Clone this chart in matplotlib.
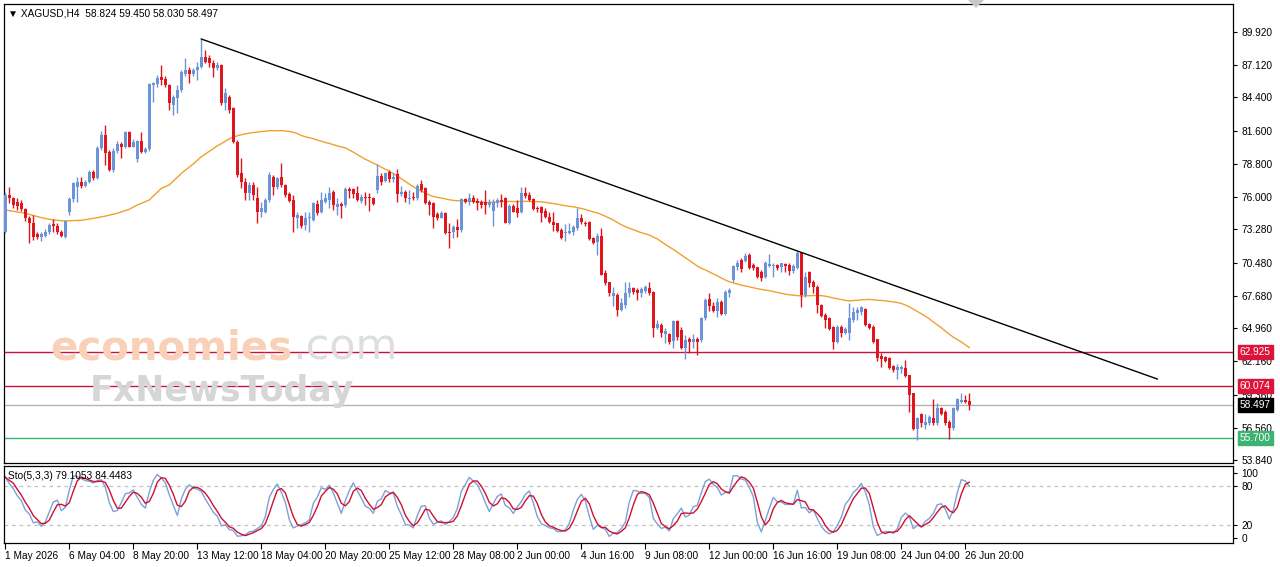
import numpy as np
import pandas as pd
import matplotlib
matplotlib.use("Agg")
import matplotlib.pyplot as plt
from matplotlib.patches import Polygon

plt.rcParams['font.family'] = ['Liberation Sans', 'DejaVu Sans']

# ---------------- data (H4 bars, XAGUSD) ----------------
opens = [73.09, 76.18, 75.9, 75.6, 75.5, 75.0, 74.22, 73.8, 72.87, 72.67,
         72.73, 73.03, 73.74, 73.6, 73.09, 72.67, 74.72, 75.85, 76.88, 77.25,
         76.97, 77.31, 78.09, 77.64, 80.12, 81.24, 79.78, 78.29, 79.89, 80.45,
         80.2, 81.46, 80.26, 79.22, 80.73, 79.8, 80.06, 85.46, 85.51, 86.16,
         86.0, 85.45, 83.77, 84.33, 85.03, 86.4, 86.72, 86.35, 86.72, 87.0,
         87.84, 87.7, 87.28, 86.9, 87.14, 83.9, 84.47, 83.49, 80.68, 78.01,
         77.31, 76.32, 77.03, 75.9, 74.78, 74.78, 75.76, 77.73, 76.88, 77.73,
         77.03, 76.24, 75.76, 74.28, 74.44, 73.65, 74.22, 74.08, 75.4, 74.78,
         75.62, 75.76, 76.4, 75.2, 75.39, 75.34, 76.68, 76.68, 76.32, 75.67,
         76.04, 75.95, 75.95, 76.6, 77.81, 77.36, 78.09, 77.53, 77.92, 76.23,
         76.46, 75.84, 75.95, 75.9, 77.08, 76.74, 75.62, 75.48, 74.55, 74.27,
         74.63, 73.09, 73.03, 73.51, 73.23, 75.84, 75.56, 75.95, 75.67, 75.62,
         75.57, 75.34, 74.84, 75.48, 75.76, 75.9, 73.8, 75.28, 75.06, 74.72,
         76.32, 76.18, 75.85, 75.12, 75.2, 74.84, 74.36, 73.94, 73.8, 73.23,
         72.95, 72.95, 73.09, 73.37, 74.27, 73.85, 73.94, 72.59, 72.19, 72.76,
         69.58, 68.82, 67.7, 67.75, 66.49, 66.91, 67.89, 68.32, 68.18, 67.89,
         68.12, 68.32, 68.03, 64.94, 65.22, 64.47, 64.47, 63.9, 65.59, 64.8,
         63.26, 64.02, 63.82, 64.02, 63.96, 65.79, 67.39, 66.83, 66.43, 67.19,
         66.15, 67.95, 69.02, 70.09, 70.7, 70.65, 71.13, 70.28, 70.09, 69.72,
         69.24, 70.2, 70.2, 70.28, 70.09, 70.37, 70.28, 69.8, 70.0, 71.27,
         67.75, 69.72, 68.88, 68.46, 66.91, 66.07, 65.79, 65.03, 63.82, 65.03,
         64.58, 64.52, 65.65, 66.26, 66.35, 66.55, 65.31, 65.08, 64.02, 62.61,
         62.5, 62.41, 61.77, 61.43, 61.49, 61.57, 61.01, 59.46, 56.43, 57.72,
         56.8, 56.94, 57.36, 56.94, 58.2, 57.92, 57.08, 56.52, 58.06, 58.76,
         58.9, 58.824]
highs = [76.4, 76.88, 76.0, 75.9, 75.76, 75.1, 74.4, 74.5, 73.09, 73.09,
         73.3, 73.8, 74.16, 73.8, 73.2, 74.1, 76.0, 77.3, 77.73, 77.73,
         77.45, 78.29, 78.29, 80.3, 81.55, 82.08, 80.0, 80.1, 80.7, 80.67,
         81.6, 81.6, 80.9, 80.8, 81.52, 80.2, 85.6, 85.74, 86.3, 87.14,
         86.2, 85.5, 84.6, 85.45, 86.7, 87.7, 87.0, 86.85, 87.42, 89.33,
         88.4, 87.98, 87.56, 87.42, 87.2, 85.17, 84.6, 83.6, 80.8, 79.27,
         77.59, 77.31, 77.31, 76.88, 75.62, 75.9, 78.15, 77.87, 77.7, 78.85,
         77.1, 76.46, 76.18, 74.78, 74.5, 74.78, 74.78, 75.6, 75.76, 76.46,
         76.32, 76.88, 76.6, 75.9, 75.62, 76.88, 76.88, 76.8, 76.96, 76.23,
         76.46, 76.32, 76.04, 78.76, 78.0, 78.1, 78.29, 78.0, 78.37, 76.96,
         76.6, 76.6, 76.4, 77.08, 77.44, 76.88, 75.76, 75.62, 74.77, 74.83,
         74.77, 73.79, 73.65, 74.15, 75.9, 75.95, 76.32, 76.18, 75.9, 75.76,
         76.6, 75.85, 75.85, 75.96, 76.24, 76.04, 75.4, 75.4, 75.76, 76.89,
         76.89, 76.46, 75.96, 75.28, 75.28, 75.06, 74.78, 74.78, 73.85, 73.37,
         73.71, 73.8, 73.65, 75.06, 74.55, 73.99, 73.99, 72.67, 72.95, 73.43,
         69.86, 68.88, 68.46, 67.89, 67.47, 68.82, 68.82, 68.46, 68.32, 68.46,
         68.6, 68.88, 68.1, 65.65, 65.37, 64.94, 64.58, 65.65, 65.65, 65.03,
         64.38, 64.24, 64.47, 64.18, 65.87, 67.47, 67.89, 67.19, 67.47, 67.33,
         68.18, 68.32, 70.28, 70.7, 70.84, 71.27, 71.27, 70.42, 70.14, 69.86,
         70.65, 71.21, 70.48, 70.37, 70.48, 70.48, 70.42, 70.37, 71.49, 71.32,
         69.72, 69.8, 69.02, 68.6, 66.99, 66.21, 65.87, 65.14, 65.22, 65.22,
         65.03, 67.05, 66.77, 66.77, 66.83, 66.63, 65.42, 65.22, 64.02, 62.84,
         62.61, 62.56, 61.85, 61.94, 61.85, 62.27, 61.01, 59.52, 57.5, 57.78,
         57.72, 57.64, 58.96, 58.62, 58.34, 58.06, 57.22, 58.34, 59.04, 59.46,
         59.32, 59.45]
lows = [72.95, 75.48, 75.1, 74.95, 74.8, 74.0, 72.11, 72.4, 72.5, 72.3,
        72.6, 72.9, 73.09, 72.9, 72.6, 72.53, 74.5, 75.6, 75.62, 76.74,
        76.88, 77.2, 77.45, 77.5, 80.0, 78.71, 78.2, 78.1, 79.7, 79.33,
        80.1, 80.2, 80.2, 79.0, 79.7, 79.7, 79.9, 84.05, 85.3, 85.46,
        85.3, 83.35, 82.9, 83.07, 84.9, 86.2, 85.6, 86.2, 85.9, 86.86,
        87.28, 87.0, 86.16, 86.72, 83.77, 83.35, 83.07, 80.54, 77.73, 76.74,
        75.76, 75.76, 75.76, 73.8, 74.36, 74.64, 75.62, 76.18, 76.7, 76.88,
        76.0, 75.62, 73.09, 73.37, 73.43, 73.23, 73.09, 73.95, 74.5, 74.64,
        75.48, 75.05, 74.91, 74.49, 74.21, 75.2, 75.95, 75.9, 75.67, 75.48,
        75.34, 74.83, 75.34, 76.32, 77.02, 77.3, 77.3, 77.3, 75.62, 76.12,
        75.62, 75.39, 75.76, 75.76, 76.46, 75.39, 74.49, 73.37, 74.07, 74.21,
        72.9, 71.68, 72.53, 72.67, 73.03, 75.48, 75.34, 75.48, 74.91, 75.05,
        74.55, 75.2, 73.6, 75.2, 75.2, 73.8, 73.71, 74.72, 74.36, 74.64,
        75.96, 75.68, 74.92, 74.72, 73.94, 74.22, 73.8, 73.15, 73.09, 72.47,
        72.31, 72.87, 72.81, 73.23, 73.71, 73.6, 72.39, 72.03, 71.13, 69.4,
        68.6, 67.7, 66.86, 66.01, 66.41, 66.63, 67.61, 67.81, 67.33, 67.61,
        67.95, 67.75, 64.24, 64.86, 64.24, 63.68, 63.62, 63.26, 63.96, 63.17,
        62.33, 62.84, 63.26, 62.7, 63.82, 65.65, 66.43, 66.35, 65.87, 66.07,
        66.07, 67.56, 68.88, 69.86, 69.72, 70.56, 69.92, 69.86, 69.16, 68.96,
        69.16, 70.14, 69.3, 69.86, 69.72, 69.72, 69.44, 69.64, 69.92, 66.77,
        67.61, 68.46, 67.89, 66.21, 65.93, 64.94, 64.8, 63.17, 63.68, 64.24,
        64.47, 63.96, 65.51, 65.65, 66.07, 65.14, 64.86, 63.73, 62.22, 61.71,
        62.13, 61.49, 61.29, 60.64, 61.21, 60.87, 57.92, 56.37, 55.53, 56.65,
        56.43, 56.8, 56.8, 56.8, 57.64, 56.8, 55.59, 56.37, 58.0, 58.62,
        58.62, 58.03]
closes = [76.18, 75.9, 75.34, 75.28, 75.0, 74.22, 73.8, 72.67, 72.67, 72.87,
          73.03, 73.65, 73.6, 73.09, 72.73, 73.99, 75.85, 77.17, 77.31, 76.97,
          77.31, 78.09, 77.59, 80.17, 81.24, 79.7, 78.29, 79.89, 80.45, 80.2,
          81.46, 80.26, 80.67, 80.73, 79.8, 80.06, 85.51, 85.6, 86.07, 85.88,
          85.45, 83.9, 84.47, 85.03, 86.58, 86.72, 86.35, 86.72, 87.0, 87.84,
          87.42, 87.28, 86.9, 87.14, 83.9, 84.75, 83.35, 80.68, 77.87, 77.31,
          76.32, 77.03, 76.18, 74.78, 75.06, 75.76, 77.87, 76.88, 77.59, 77.03,
          76.18, 75.68, 74.36, 74.5, 73.6, 74.22, 74.36, 75.48, 74.64, 75.76,
          75.9, 76.32, 75.34, 75.39, 75.28, 76.68, 76.52, 76.23, 75.76, 76.04,
          75.95, 75.9, 75.39, 77.81, 77.3, 78.0, 77.53, 77.72, 76.23, 76.46,
          75.9, 75.95, 75.9, 76.96, 76.6, 75.48, 75.34, 74.35, 74.21, 74.63,
          72.95, 72.95, 73.51, 73.23, 75.84, 75.56, 75.95, 75.62, 75.48, 75.34,
          75.34, 75.57, 75.57, 75.76, 75.57, 73.8, 75.28, 74.78, 74.64, 76.32,
          76.13, 75.76, 75.0, 75.0, 74.64, 74.36, 73.88, 73.65, 73.15, 72.59,
          73.04, 73.15, 73.51, 74.27, 73.88, 73.71, 72.47, 72.11, 72.76, 69.44,
          68.74, 67.89, 67.89, 66.49, 67.05, 67.89, 68.37, 67.98, 67.89, 68.26,
          68.4, 67.89, 64.94, 65.31, 64.52, 64.75, 63.82, 65.59, 64.18, 63.26,
          63.96, 63.82, 64.02, 63.82, 65.79, 67.33, 66.83, 66.43, 67.19, 66.15,
          68.03, 68.18, 70.2, 70.42, 69.92, 71.04, 70.0, 70.0, 69.24, 69.16,
          70.48, 70.37, 70.28, 70.0, 70.42, 70.2, 69.8, 70.2, 71.32, 67.75,
          69.3, 68.74, 68.46, 66.91, 65.98, 65.65, 64.86, 63.82, 65.03, 64.58,
          64.86, 65.79, 66.35, 66.49, 66.77, 65.22, 64.94, 63.82, 62.41, 62.33,
          62.22, 61.57, 61.43, 61.66, 61.66, 60.93, 59.32, 56.43, 57.36, 56.99,
          57.08, 57.44, 56.94, 58.2, 57.72, 56.94, 56.52, 58.2, 58.96, 58.9,
          58.76, 58.497]

# MA(50) before enough history is on screen: values
ma_early_bars = [0, 5, 9, 12, 15, 19, 22, 25, 28, 31, 33, 36, 39, 41, 44, 47]
ma_early_vals = [74.92, 74.64, 74.27, 74.07, 73.99, 74.05, 74.21, 74.4, 74.64,
                 74.98, 75.34, 75.76, 76.74, 77.03, 78.0, 78.8]
MA_PERIOD = 50

# trend line end points (bar index, price)
trend_bars = [49, 288]
trend_prices = [89.33, 60.67]

# horizontal levels
level_prices = [62.925, 60.074, 58.497, 55.700]
level_colors = ['#c8143c', '#c8143c', '#b4b4b4', '#3cb371']
level_box = ['#dc143c', '#dc143c', '#000000', '#3cb371']

price_ticks = [89.92, 87.12, 84.40, 81.60, 78.80, 76.00, 73.28, 70.48,
               67.68, 64.96, 62.16, 59.36, 56.56, 53.84]
time_tick_bars = [0, 16, 32, 48, 64, 80, 96, 112, 128, 144, 160, 176, 192,
                  208, 224, 240]
time_labels = ['1 May 2026', '6 May 04:00', '8 May 20:00', '13 May 12:00',
               '18 May 04:00', '20 May 20:00', '25 May 12:00', '28 May 08:00',
               '2 Jun 00:00', '4 Jun 16:00', '9 Jun 08:00', '12 Jun 00:00',
               '16 Jun 16:00', '19 Jun 08:00', '24 Jun 04:00', '26 Jun 20:00']

# ---------------- figure ----------------
W, H = 1280, 567
fig = plt.figure(figsize=(W / 100, H / 100), dpi=100, facecolor='white')

def fx(px):
    return px / W

def fy(py):
    return 1 - py / H

FS = 7.3
main_l, main_r, main_t, main_b = 4, 1233, 4, 463
sto_t, sto_b = 466, 543
ax = fig.add_axes([fx(main_l), fy(main_b), fx(main_r - main_l), (main_b - main_t) / H])
axs = fig.add_axes([fx(main_l), fy(sto_b), fx(main_r - main_l), (sto_b - sto_t) / H])

o = np.array(opens); h = np.array(highs); l = np.array(lows); c = np.array(closes)
n = len(c)
x = np.arange(n)
bull = c >= o
BLUE = '#6b94d8'
RED = '#e0161e'
cols = np.where(bull, BLUE, RED)

ax.vlines(x, l, h, colors=cols, linewidth=1.0, zorder=3)
body_bot = np.minimum(o, c)
body_h = np.maximum(np.abs(c - o), 0.09)
ax.bar(x, body_h, bottom=body_bot, width=0.78, color=cols, linewidth=0, zorder=4)

# moving average: early read values, then SMA(50) of the closes
sma = pd.Series(c).rolling(MA_PERIOD).mean()
ma_x = list(ma_early_bars) + list(range(MA_PERIOD - 1, n))
ma_y = list(ma_early_vals) + list(sma.iloc[MA_PERIOD - 1:].values)
ax.plot(ma_x, ma_y, color='#f0a030', linewidth=1.0, zorder=2)
# trend line
ax.plot(trend_bars, trend_prices, color='black', linewidth=1.0, zorder=5)

# horizontal levels
for p, lc in zip(level_prices, level_colors):
    ax.axhline(p, color=lc, linewidth=1.0, zorder=1)

xmin = -0.33
xmax = (main_r - 5.3) / 4.0
ax.set_xlim(xmin, xmax)
ax.set_ylim(53.59, 92.28)
ax.set_xticks([])
ax.yaxis.tick_right()
ax.set_yticks(price_ticks)
ax.set_yticklabels([f'{v:.3f}' for v in price_ticks])
ax.tick_params(axis='y', direction='out', length=3, width=0.8, labelsize=FS, pad=3, colors='black')
for s in ax.spines.values():
    s.set_linewidth(0.9)
    s.set_color('black')

for p, bc in zip(level_prices, level_box):
    ax.annotate(f'{p:.3f}', xy=(1.0, p), xycoords=('axes fraction', 'data'),
                xytext=(5, 0), textcoords='offset points', ha='left', va='center',
                fontsize=FS, color='white', zorder=10, annotation_clip=False,
                bbox=dict(boxstyle='square,pad=0.2', facecolor=bc, edgecolor=bc))

# watermark
t1 = fig.text(fx(50), fy(360), 'economies', fontsize=29, color='#f9d0b8',
              family='DejaVu Sans', fontweight='bold', ha='left', va='baseline', zorder=0)
fig.canvas.draw()
bb = t1.get_window_extent()
fig.text(bb.x1 / W, fy(360), '.com', fontsize=31, color='#dedede',
         family='DejaVu Sans', ha='left', va='baseline', zorder=0)
fig.text(fx(90), fy(401), 'FxNewsToday', fontsize=25, color='#d6d6d6',
         family='DejaVu Sans', fontweight='bold', ha='left', va='baseline', zorder=0)

# title
fig.text(fx(8), fy(13), '\u25bc XAGUSD,H4  58.824 59.450 58.030 58.497',
         fontsize=FS, ha='left', va='center', color='black')

# ---------------- stochastic (5,3,3) ----------------
s_h = pd.Series(h); s_l = pd.Series(l); s_c = pd.Series(c)
hh = s_h.rolling(5, min_periods=1).max()
ll = s_l.rolling(5, min_periods=1).min()
num = (s_c - ll).rolling(3, min_periods=1).sum()
den = (hh - ll).rolling(3, min_periods=1).sum()
k = 100 * num / den
d = k.rolling(3, min_periods=1).mean()

axs.axhline(80, color='#c0c0c0', linewidth=0.9, linestyle=(0, (3, 3)))
axs.axhline(20, color='#c0c0c0', linewidth=0.9, linestyle=(0, (3, 3)))
axs.plot(x, k, color='#7ba2d8', linewidth=1.0)
axs.plot(x, d, color='#d01030', linewidth=1.0)
axs.set_xlim(xmin, xmax)
axs.set_ylim(-7.7, 110.8)
axs.yaxis.tick_right()
axs.set_yticks([0, 20, 80, 100])
axs.set_yticklabels(['0', '20', '80', '100'])
axs.tick_params(axis='y', direction='out', length=3, width=0.8, labelsize=FS, pad=3)
axs.set_xticks(time_tick_bars)
axs.set_xticklabels(time_labels)
axs.tick_params(axis='x', direction='out', length=4, width=0.8, labelsize=FS, pad=2)
for lab in axs.get_xticklabels():
    lab.set_horizontalalignment('left')
for s in axs.spines.values():
    s.set_linewidth(0.9)
    s.set_color('black')
fig.text(fx(8), fy(476), 'Sto(5,3,3) 79.1053 84.4483', fontsize=FS,
         ha='left', va='center', color='black')

# chart shift marker
tri = Polygon([[fx(968), fy(0)], [fx(984), fy(0)], [fx(976), fy(8)]],
              closed=True, transform=fig.transFigure, facecolor='#c8c8c8',
              edgecolor='none')
fig.patches.append(tri)

fig.savefig('out.png', dpi=100, facecolor='white')
